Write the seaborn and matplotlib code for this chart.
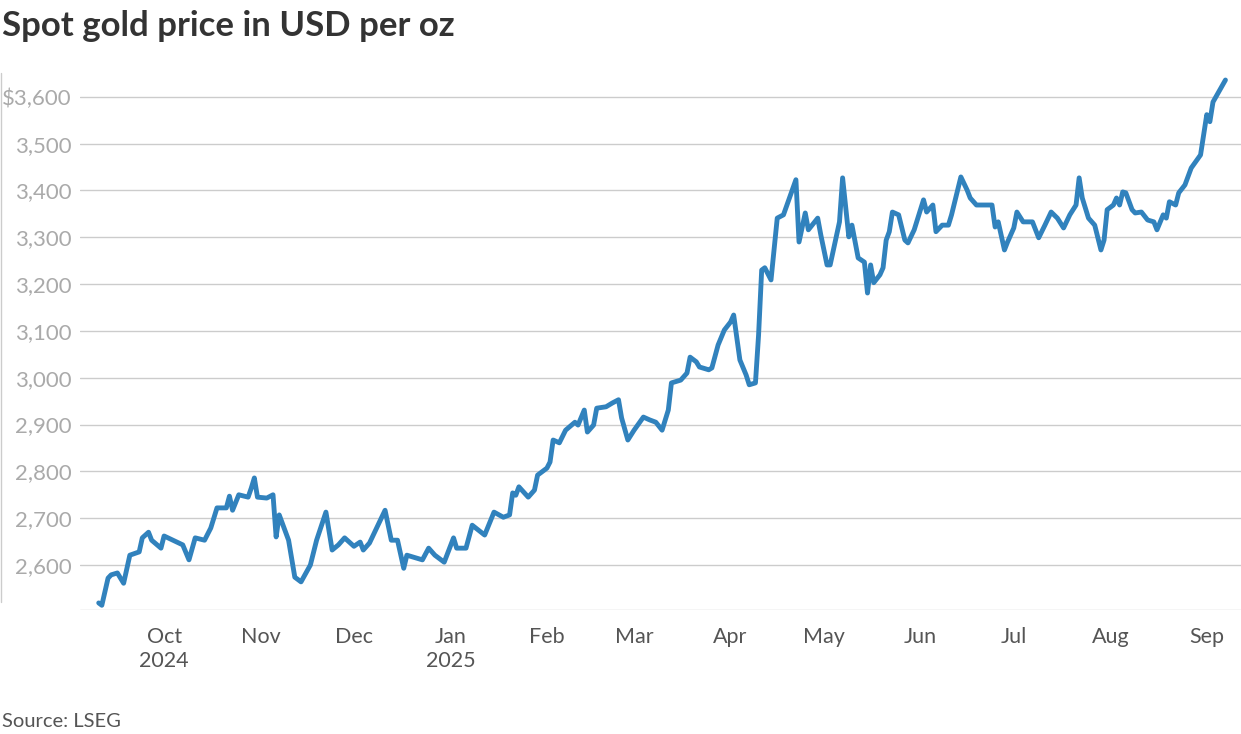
import pandas as pd
import matplotlib.pyplot as plt
import seaborn as sns

dates = (
    ["2024-09-10", "2024-09-11", "2024-09-13", "2024-09-14", "2024-09-16", "2024-09-18",
     "2024-09-20", "2024-09-23", "2024-09-24", "2024-09-26", "2024-09-27", "2024-09-30"]
    + ["2024-10-01", "2024-10-07", "2024-10-09", "2024-10-11", "2024-10-14", "2024-10-16",
       "2024-10-18", "2024-10-21", "2024-10-22", "2024-10-23", "2024-10-25", "2024-10-28",
       "2024-10-29", "2024-10-30", "2024-10-31"]
    + ["2024-11-03", "2024-11-05", "2024-11-06", "2024-11-07", "2024-11-10", "2024-11-12",
       "2024-11-14", "2024-11-17", "2024-11-19", "2024-11-22", "2024-11-24", "2024-11-26",
       "2024-11-28"]
    + ["2024-12-01", "2024-12-03", "2024-12-04", "2024-12-06", "2024-12-08", "2024-12-11",
       "2024-12-13", "2024-12-15", "2024-12-17", "2024-12-18", "2024-12-21", "2024-12-23",
       "2024-12-25", "2024-12-27", "2024-12-30"]
    + ["2025-01-02", "2025-01-03", "2025-01-06", "2025-01-08", "2025-01-12", "2025-01-15",
       "2025-01-18", "2025-01-20", "2025-01-21", "2025-01-22", "2025-01-23", "2025-01-26",
       "2025-01-28", "2025-01-29"]
    + ["2025-02-01", "2025-02-02", "2025-02-03", "2025-02-05", "2025-02-07", "2025-02-10",
       "2025-02-11", "2025-02-13", "2025-02-14", "2025-02-16", "2025-02-17", "2025-02-20",
       "2025-02-22", "2025-02-24", "2025-02-25", "2025-02-27"]
    + ["2025-03-01", "2025-03-04", "2025-03-06", "2025-03-08", "2025-03-10", "2025-03-12",
       "2025-03-13", "2025-03-16", "2025-03-18", "2025-03-19", "2025-03-21", "2025-03-22",
       "2025-03-25", "2025-03-26", "2025-03-28", "2025-03-30"]
    + ["2025-04-01", "2025-04-02", "2025-04-04", "2025-04-06", "2025-04-07", "2025-04-09",
       "2025-04-10", "2025-04-11", "2025-04-12", "2025-04-14", "2025-04-16", "2025-04-18",
       "2025-04-22", "2025-04-23", "2025-04-25", "2025-04-26", "2025-04-29", "2025-04-30"]
    + ["2025-05-02", "2025-05-03", "2025-05-06", "2025-05-07", "2025-05-09", "2025-05-10",
       "2025-05-12", "2025-05-14", "2025-05-15", "2025-05-16", "2025-05-17", "2025-05-19",
       "2025-05-20", "2025-05-21", "2025-05-22", "2025-05-23", "2025-05-25", "2025-05-27",
       "2025-05-28", "2025-05-30"]
    + ["2025-06-02", "2025-06-03", "2025-06-05", "2025-06-06", "2025-06-08", "2025-06-10",
       "2025-06-11", "2025-06-14", "2025-06-16", "2025-06-17", "2025-06-19", "2025-06-21",
       "2025-06-23", "2025-06-24", "2025-06-25", "2025-06-26", "2025-06-28", "2025-06-29"]
    + ["2025-07-01", "2025-07-02", "2025-07-04", "2025-07-07", "2025-07-09", "2025-07-11",
       "2025-07-13", "2025-07-15", "2025-07-17", "2025-07-19", "2025-07-21", "2025-07-22",
       "2025-07-23", "2025-07-25", "2025-07-27", "2025-07-29", "2025-07-30", "2025-07-31"]
    + ["2025-08-02", "2025-08-03", "2025-08-04", "2025-08-05", "2025-08-06", "2025-08-08",
       "2025-08-09", "2025-08-11", "2025-08-13", "2025-08-15", "2025-08-16", "2025-08-18",
       "2025-08-19", "2025-08-20", "2025-08-22", "2025-08-23", "2025-08-25", "2025-08-27",
       "2025-08-30"]
    + ["2025-09-01", "2025-09-02", "2025-09-03", "2025-09-07"]
)

prices = (
    [2519, 2514, 2572, 2579, 2583, 2561, 2621, 2628, 2658, 2670, 2653, 2636]
    + [2662, 2643, 2611, 2658, 2653, 2679, 2722, 2722, 2747, 2717, 2750, 2745, 2764, 2786, 2745]
    + [2743, 2750, 2660, 2707, 2653, 2574, 2564, 2600, 2653, 2713, 2632, 2643, 2658]
    + [2640, 2649, 2632, 2647, 2675, 2717, 2653, 2653, 2593, 2621, 2615, 2611, 2636, 2621, 2606]
    + [2658, 2636, 2636, 2685, 2664, 2713, 2702, 2707, 2754, 2749, 2767, 2745, 2760, 2792]
    + [2807, 2820, 2867, 2861, 2888, 2905, 2899, 2931, 2884, 2899, 2935, 2938, 2946, 2953, 2914, 2867]
    + [2888, 2916, 2910, 2905, 2888, 2931, 2989, 2995, 3010, 3044, 3034, 3023, 3017, 3021, 3070, 3102]
    + [3119, 3134, 3038, 3006, 2985, 2989, 3091, 3230, 3235, 3209, 3341, 3348, 3423, 3290, 3352,
       3316, 3341, 3305]
    + [3241, 3241, 3333, 3427, 3301, 3326, 3256, 3247, 3181, 3241, 3203, 3220, 3235, 3294, 3312,
       3354, 3348, 3294, 3288, 3316]
    + [3380, 3354, 3369, 3312, 3326, 3326, 3348, 3429, 3401, 3384, 3369, 3369, 3369, 3369, 3322,
       3333, 3273, 3290]
    + [3320, 3354, 3333, 3333, 3299, 3326, 3354, 3341, 3320, 3348, 3369, 3427, 3384, 3341, 3326,
       3273, 3294, 3359]
    + [3369, 3384, 3369, 3397, 3395, 3359, 3352, 3354, 3337, 3333, 3316, 3348, 3341, 3376, 3369,
       3395, 3412, 3448, 3476]
    + [3562, 3547, 3589, 3636]
)

y_ticks = [2600, 2700, 2800, 2900, 3000, 3100, 3200, 3300, 3400, 3500, 3600]
y_labels = ["2,600", "2,700", "2,800", "2,900", "3,000", "3,100", "3,200", "3,300",
            "3,400", "3,500", "$3,600"]
month_ticks = ["2024-10-01", "2024-11-01", "2024-12-01", "2025-01-01", "2025-02-01",
               "2025-03-01", "2025-04-01", "2025-05-01", "2025-06-01", "2025-07-01",
               "2025-08-01", "2025-09-01"]
month_labels = ["Oct\n2024", "Nov", "Dec", "Jan\n2025", "Feb", "Mar", "Apr", "May",
                "Jun", "Jul", "Aug", "Sep"]

df = pd.DataFrame({"date": pd.to_datetime(dates), "price": prices})

sns.set_style("white")
plt.rcParams['font.family'] = ['Lato', 'DejaVu Sans']

fig = plt.figure(figsize=(12.41, 7.34), dpi=100)
ax = fig.add_axes([0.0645, 0.169, 0.9355, 0.729])

for t in y_ticks:
    ax.axhline(t, color='#cccccc', lw=1, zorder=0)
ax.axhline(2504, color='#cccccc', lw=1, zorder=0)

sns.lineplot(data=df, x="date", y="price", color='#3182bd', lw=3.5, ax=ax)

ax.set_xlim(pd.Timestamp("2024-09-04"), pd.Timestamp("2025-09-12"))
ax.set_ylim(2504, 3647)
ax.set_yticks(y_ticks)
ax.set_yticklabels(y_labels, color='#aaaaaa', fontsize=16)
ax.set_xticks(pd.to_datetime(month_ticks))
ax.set_xticklabels(month_labels, color='#555555', fontsize=15.5, linespacing=1.25)
ax.tick_params(axis='y', length=0, pad=6)
ax.tick_params(axis='x', length=0, pad=12)
ax.set_xlabel('')
ax.set_ylabel('')
for s in ax.spines.values():
    s.set_visible(False)

fig.add_artist(plt.Line2D([0.001, 0.001], [0.18, 0.9], color='#cccccc', lw=1))
fig.text(0.002, 0.965, "Spot gold price in USD per oz", fontsize=25, fontweight='bold',
         color='#333333', va='center', ha='left')
fig.text(0.002, 0.005, "Source: LSEG", fontsize=14.5, color='#555555', va='bottom', ha='left')

fig.savefig("out.png", dpi=100)
